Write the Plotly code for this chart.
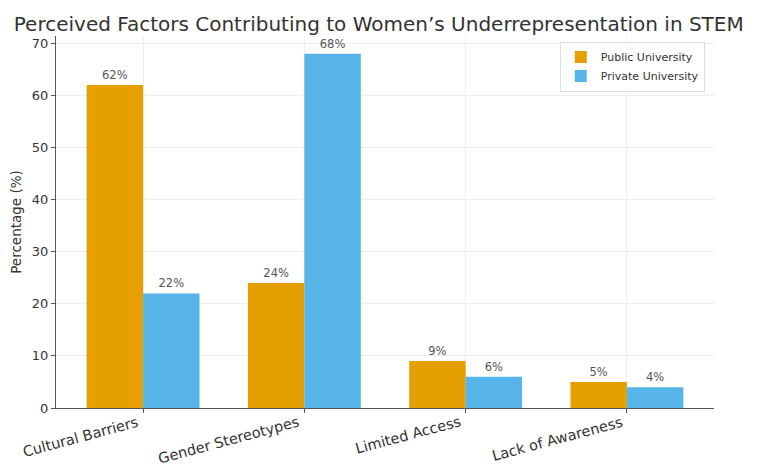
import plotly.graph_objects as go

categories = ["Cultural Barriers", "Gender Stereotypes", "Limited Access", "Lack of Awareness"]
public_vals = [62, 24, 9, 5]
private_vals = [22, 68, 6, 4]
y_ticks = [0, 10, 20, 30, 40, 50, 60, 70]

font_family = "DejaVu Sans"
fig = go.Figure()
fig.add_trace(go.Bar(x=categories, y=public_vals, name="Public University",
                     marker=dict(color="#E69F00", line=dict(width=0)),
                     texttemplate="%{y}%", textposition="outside",
                     textfont=dict(size=11.5, color="#555"), cliponaxis=False))
fig.add_trace(go.Bar(x=categories, y=private_vals, name="Private University",
                     marker=dict(color="#56B4E9", line=dict(width=0)),
                     texttemplate="%{y}%", textposition="outside",
                     textfont=dict(size=11.5, color="#555"), cliponaxis=False))

for c in categories:
    fig.add_annotation(x=c, y=0, xref="x", yref="y", text=c, showarrow=False,
                       textangle=-15, xanchor="right", yanchor="top",
                       xshift=-1, yshift=-3,
                       font=dict(size=14.5, color="#333"))

# page body has an 8px margin: compensate so the plot lands where the reference has it
fig.update_layout(
    width=749, height=460,
    barmode="group", bargap=0.3, bargroupgap=0,
    plot_bgcolor="white", paper_bgcolor="white",
    font=dict(family=font_family, color="#333", size=12),
    margin=dict(l=48, r=43, t=28, b=60, autoexpand=False),
    title=dict(text="Perceived Factors Contributing to Women’s Underrepresentation in STEM",
               x=0.495, xanchor="center", y=0.965, yanchor="middle",
               font=dict(size=20, color="#333")),
    legend=dict(x=0.986, y=0.985, xanchor="right", yanchor="top",
                bgcolor="rgba(255,255,255,0.9)", bordercolor="#ddd", borderwidth=1,
                font=dict(size=11), tracegroupgap=0, itemwidth=30),
    xaxis=dict(range=[-0.54, 3.54], showline=True, linecolor="#555",
               showgrid=True, gridcolor="#eee", ticks="outside", ticklen=4,
               tickcolor="#555", showticklabels=False, automargin=False),
    yaxis=dict(range=[0, 71.4], tickvals=y_ticks, showline=True, linecolor="#555",
               showgrid=True, gridcolor="#eee", ticks="outside", ticklen=4,
               tickcolor="#555", zeroline=False, automargin=False,
               title=dict(text="Percentage (%)", font=dict(size=13.5), standoff=8),
               tickfont=dict(size=13)),
)
fig.write_html("out.html")
